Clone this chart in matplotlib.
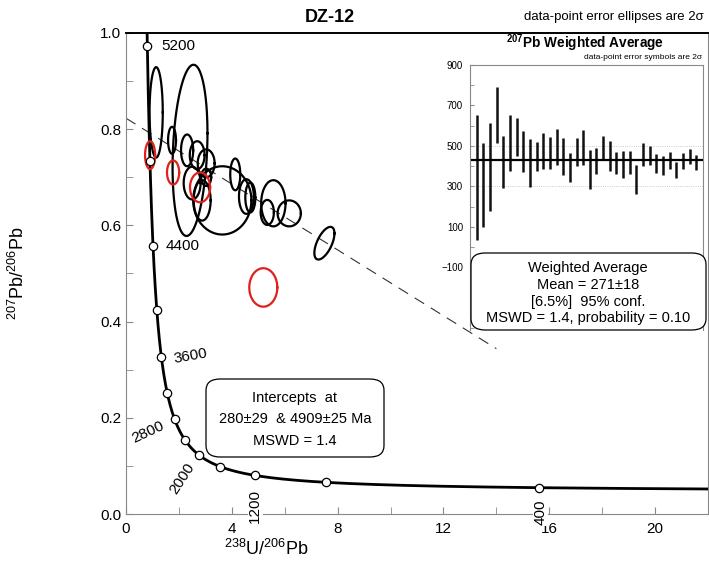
import numpy as np
import matplotlib.pyplot as plt
from matplotlib.patches import FancyBboxPatch
from matplotlib.ticker import MultipleLocator

plt.rcParams['font.family'] = ['Liberation Sans', 'DejaVu Sans']
plt.rcParams['mathtext.default'] = 'regular'

# decay constants (1/yr) and 238U/235U
L238 = 1.55125e-10
L235 = 9.8485e-10
U85 = 137.88

# concordia age marks (Ma)
ages = [400, 800, 1200, 1600, 2000, 2400, 2800, 3200, 3600, 4000, 4400, 4800, 5200]
labelled = [400, 1200, 2000, 2800, 3600, 4400, 5200]
intercepts = [280, 4909]

# error ellipses: centre x, centre y, half-width x, half-height y, correlation
ell_x = [1.14, 2.42, 3.64, 1.74, 2.31, 2.69, 3.03, 3.03, 2.50, 2.88, 4.13, 4.55, 4.70, 5.57, 5.34, 6.17, 7.50]
ell_y = [0.835, 0.756, 0.652, 0.777, 0.756, 0.746, 0.729, 0.700, 0.688, 0.652, 0.706, 0.660, 0.658, 0.646, 0.627, 0.625, 0.563]
ell_sx = [0.25, 0.66, 1.10, 0.15, 0.23, 0.28, 0.32, 0.19, 0.32, 0.32, 0.19, 0.28, 0.19, 0.46, 0.25, 0.44, 0.38]
ell_sy = [0.094, 0.178, 0.071, 0.028, 0.033, 0.029, 0.029, 0.018, 0.034, 0.042, 0.033, 0.036, 0.031, 0.048, 0.026, 0.027, 0.034]
ell_rho = [0, 0.2, 0, 0, 0, 0, 0, 0, 0, 0, 0, 0, 0, 0, 0, 0, 0.6]

# rejected analyses (red)
rej_x = [0.91, 1.78, 2.80, 5.19]
rej_y = [0.746, 0.710, 0.679, 0.471]
rej_sx = [0.19, 0.23, 0.38, 0.53]
rej_sy = [0.029, 0.025, 0.031, 0.040]

# 207Pb age weighted-average bars (Ma, 2 sigma limits)
wa_top = [651, 513, 611, 789, 550, 651, 640, 573, 534, 518, 562, 542, 586, 541, 464, 537, 581,
          480, 492, 550, 524, 469, 476, 476, 404, 513, 502, 459, 448, 469, 419, 464, 484, 456]
wa_bot = [37, 98, 176, 513, 293, 375, 448, 372, 297, 375, 386, 386, 407, 355, 323, 399, 407,
          289, 362, 432, 375, 359, 339, 359, 264, 402, 407, 367, 354, 386, 342, 386, 411, 380]
wa_mean = 432


def tw(t_ma):
    t = np.asarray(t_ma, dtype=float) * 1e6
    e8 = np.exp(L238 * t) - 1
    e5 = np.exp(L235 * t) - 1
    return 1 / e8, e5 / e8 / U85


def ellipse(ax, cx, cy, sx, sy, rho, color):
    tt = np.linspace(0, 2 * np.pi, 200)
    ex = cx + sx * np.cos(tt)
    ey = cy + sy * (rho * np.cos(tt) + np.sqrt(1 - rho ** 2) * np.sin(tt))
    ax.plot(ex, ey, color=color, lw=1.6, zorder=4)


fig = plt.figure(figsize=(7.09, 5.67), dpi=100)
ax = fig.add_axes([126 / 709, 1 - 514 / 567, 582 / 709, 481 / 567])

# discordia line
xa, ya = tw(intercepts)
slope = (ya[1] - ya[0]) / (xa[1] - xa[0])
xd = np.array([0, 14])
ax.plot(xd, ya[1] + slope * (xd - xa[1]), color='#333333', lw=0.8, dashes=(10, 7), zorder=2)

# concordia curve
tc = np.linspace(150, 5600, 800)
cx, cy = tw(tc)
ax.plot(cx, cy, color='black', lw=2.0, zorder=3)
mx, my = tw(ages)
ax.plot(mx, my, 'o', ms=6, mfc='white', mec='black', mew=0.9, zorder=6)

# age labels: offset in points, rotation
lab_style = {400: ((1, -18), 90), 1200: ((0, -22), 90), 2000: ((-12, -17), 57),
             2800: ((-19, -9), 25), 3600: ((21, 1), 10), 4400: ((21, 0), 0), 5200: ((22, 0), 0)}
for a in labelled:
    lx, ly = tw(a)
    off, rot = lab_style[a]
    ax.annotate(str(a), (lx, ly), xytext=off, textcoords='offset points', ha='center', va='center',
                rotation=rot, fontsize=11, zorder=7,
                bbox=dict(boxstyle='square,pad=0.05', fc='white', ec='none'))

for i in range(len(ell_x)):
    ellipse(ax, ell_x[i], ell_y[i], ell_sx[i], ell_sy[i], ell_rho[i], 'black')
for i in range(len(rej_x)):
    ellipse(ax, rej_x[i], rej_y[i], rej_sx[i], rej_sy[i], 0, '#e0201b')

ax.set_xlim(0, 22)
ax.set_ylim(0, 1.0)
ax.xaxis.set_major_locator(MultipleLocator(4))
ax.xaxis.set_minor_locator(MultipleLocator(2))
ax.yaxis.set_major_locator(MultipleLocator(0.2))
ax.yaxis.set_minor_locator(MultipleLocator(0.1))
ax.yaxis.set_major_formatter(plt.FuncFormatter(lambda v, p: f'{v:.1f}'))
ax.tick_params(which='both', direction='in', color='#888888', labelsize=11, length=5)
ax.tick_params(axis='x', pad=6)
for s in ['left', 'right', 'bottom']:
    ax.spines[s].set_color('#888888')
ax.spines['top'].set_linewidth(1.4)
ax.set_xlabel('$^{238}$U/$^{206}$Pb', fontsize=13, va='center')
ax.xaxis.set_label_coords((266 - 126) / 582, -0.073)
ax.set_ylabel('$^{207}$Pb/$^{206}$Pb', fontsize=13, va='center')
ax.yaxis.set_label_coords(-0.186, 0.5)

fig.text(330 / 709, 1 - 17 / 567, 'DZ-12', fontsize=13, fontweight='bold', ha='center', va='center')
fig.text(704 / 709, 1 - 17 / 567, 'data-point error ellipses are 2σ', fontsize=9.5, ha='right', va='center')

# intercepts box
fig.patches.append(FancyBboxPatch((206 / 709, 1 - 457 / 567), 178 / 709, 78 / 567,
                                  boxstyle='round,pad=0,rounding_size=0.02', transform=fig.transFigure,
                                  fc='white', ec='black', lw=0.9))
for txt, yy in [('Intercepts  at', 398), ('280±29  & 4909±25 Ma', 419), ('MSWD = 1.4', 441)]:
    fig.text(295 / 709, 1 - yy / 567, txt, fontsize=10.5, ha='center', va='center')

# inset: weighted average
ax2 = fig.add_axes([470 / 709, 1 - 330 / 567, 233 / 709, 265 / 567])
nb = np.arange(1, len(wa_top) + 1)
ax2.axhline(500, color='#bbbbbb', lw=0.6, ls=':')
ax2.axhline(300, color='#bbbbbb', lw=0.6, ls=':')
ax2.vlines(nb, wa_bot, wa_top, color='#111111', lw=1.8)
ax2.axhline(wa_mean, color='black', lw=1.6)
ax2.set_xlim(0, len(wa_top) + 1)
ax2.set_ylim(-410, 900)
ax2.set_yticks([-100, 100, 300, 500, 700, 900])
ax2.yaxis.set_minor_locator(MultipleLocator(100))
ax2.set_xticks([])
ax2.tick_params(which='both', direction='in', color='#888888', labelsize=7, length=3, pad=5)
for s in ax2.spines.values():
    s.set_color('#888888')
ax2.spines['bottom'].set_visible(False)
fig.text(585 / 709, 1 - 43 / 567, '$^{207}$Pb Weighted Average', fontsize=9.8, fontweight='bold',
         ha='center', va='center')
fig.text(702 / 709, 1 - 57.5 / 567, 'data-point error symbols are 2σ', fontsize=6.0, ha='right', va='center')

fig.patches.append(FancyBboxPatch((471 / 709, 1 - 330 / 567), 235 / 709, 77 / 567,
                                  boxstyle='round,pad=0,rounding_size=0.02', transform=fig.transFigure,
                                  fc='white', ec='black', lw=0.9))
for txt, yy in [('Weighted Average', 268), ('Mean = 271±18', 285), ('[6.5%]  95% conf.', 302),
                ('MSWD = 1.4, probability = 0.10', 318)]:
    fig.text(588 / 709, 1 - yy / 567, txt, fontsize=10.5, ha='center', va='center')

fig.savefig('out.png', dpi=100)
